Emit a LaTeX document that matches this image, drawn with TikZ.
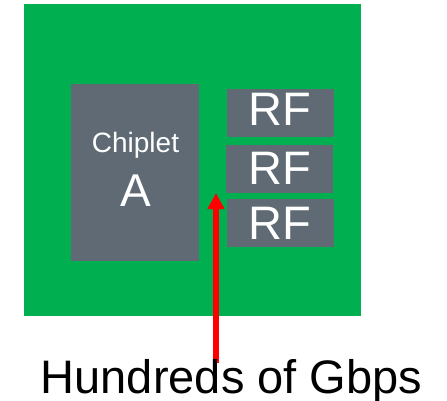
\documentclass[tikz,border=0pt]{standalone}
\usepackage{fontspec}
\setmainfont{Liberation Sans}
\usetikzlibrary{arrows.meta}
\definecolor{boardgreen}{HTML}{00B050}
\definecolor{chipgray}{HTML}{5F6A74}
\begin{document}
\begin{tikzpicture}[x=1pt,y=-1pt,
  chip/.style={fill=chipgray,draw=none},
  chiptext/.style={text=white,inner sep=0pt,anchor=base},
  link/.style={draw=red,line width=5.5pt,-{Triangle[width=16pt,length=16pt]}}]
  \useasboundingbox (0,0) rectangle (447,401);
  % substrate
  \fill[boardgreen] (24,4) rectangle (361,316);
  % chiplet and RF blocks
  \path[chip] (71,84) rectangle (199,261);
  \path[chip] (227,89) rectangle (334,137);
  \path[chip] (226,145) rectangle (333,193);
  \path[chip] (227,199) rectangle (334,247);
  \node[chiptext,font=\fontsize{28}{30}\selectfont] (chiplet) at (135.5,153) {Chiplet};
  \node[chiptext,font=\fontsize{46}{48}\selectfont] (a) at (136,206) {A};
  \node[chiptext,font=\fontsize{47}{49}\selectfont] (rf1) at (280,126) {RF};
  \node[chiptext,font=\fontsize{47}{49}\selectfont] (rf2) at (280,184) {RF};
  \node[chiptext,font=\fontsize{47}{49}\selectfont] (rf3) at (280,239) {RF};
  % bandwidth label and arrow
  \coordinate (tail) at (216,363);
  \coordinate (tip) at (216,193);
  \draw[link] (tail) -- (tip);
  \node[inner sep=0pt,anchor=base,font=\fontsize{47}{49}\selectfont] (label) at (231.5,393) {Hundreds of Gbps};
\end{tikzpicture}
\end{document}
